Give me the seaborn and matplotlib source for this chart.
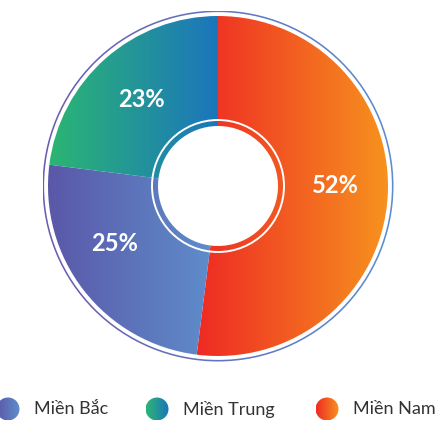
import matplotlib.pyplot as plt
import numpy as np
import seaborn as sns
from matplotlib.patches import Circle, Wedge

regions = ["Miền Bắc", "Miền Trung", "Miền Nam"]
shares = [25, 23, 52]
# left -> right colours of each region's gradient
grad_left = ["#5A56A8", "#2BB673", "#EE2A24"]
grad_right = ["#5F8FCC", "#1C75BC", "#F7931E"]
pie_order = [2, 0, 1]  # Nam starts at 12 o'clock, then Bắc, then Trung
# small label nudges (pixels, right / up) to match the original placement
label_nudge = [(2, 8), (-12, 13), (0, 0)]

sns.set_style("white")
plt.rcParams["font.family"] = ["Lato", "DejaVu Sans"]

W, H = 443, 421
R = 170.0
CX, CY = 218, 186


def px(x, y):
    return (x - CX) / R, (CY - y) / R


fig = plt.figure(figsize=(W / 100, H / 100), dpi=100)
ax = fig.add_axes([0, 0, 1, 1])


def fill_gradient(patch, left, right, z):
    verts = patch.get_patch_transform().transform(patch.get_path().vertices)
    cmap = sns.blend_palette([left, right], as_cmap=True)
    im = ax.imshow(
        np.linspace(0, 1, 256)[None, :],
        cmap=cmap,
        extent=[verts[:, 0].min(), verts[:, 0].max(), verts[:, 1].min(), verts[:, 1].max()],
        aspect="auto",
        interpolation="bilinear",
        zorder=z,
    )
    im.set_clip_path(patch)
    patch.set_facecolor("none")
    patch.set_edgecolor("none")


wedges, _, autotexts = ax.pie(
    [shares[i] for i in pie_order],
    startangle=90,
    counterclock=False,
    radius=1,
    wedgeprops=dict(width=1 - 60 / R, linewidth=0),
    autopct="%.0f%%",
    pctdistance=0.68,
    textprops=dict(color="white", fontsize=17, fontweight="bold"),
)
for w, i in zip(wedges, pie_order):
    fill_gradient(w, grad_left[i], grad_right[i], 1.5)
for t, (dx, dy) in zip(autotexts, label_nudge):
    x, y = t.get_position()
    t.set_position((x + dx / R, y + dy / R))
    t.set_zorder(4)

# thin outline around the donut
outline = Wedge((0, 0), 175.5 / R, 0, 360, width=1.6 / R)
ax.add_patch(outline)
fill_gradient(outline, "#6A5EAE", "#5B8ED0", 1.5)

# white ring near the hole
ax.add_patch(Circle((0, 0), 66 / R, facecolor="none", edgecolor="white", lw=1.4, zorder=3))

# legend
legend_x = [8, 157, 327]
for i, name in enumerate(regions):
    c = Circle(px(legend_x[i], 409), 11.5 / R)
    ax.add_patch(c)
    fill_gradient(c, grad_left[i], grad_right[i], 2)
    ax.text(*px(legend_x[i] + 26, 409), name, ha="left", va="center",
            fontsize=13, color="#333333")

ax.set_xlim(-CX / R, (W - CX) / R)
ax.set_ylim((CY - H) / R, CY / R)
ax.set_aspect("equal")
ax.axis("off")
fig.savefig("out.png", dpi=100)
